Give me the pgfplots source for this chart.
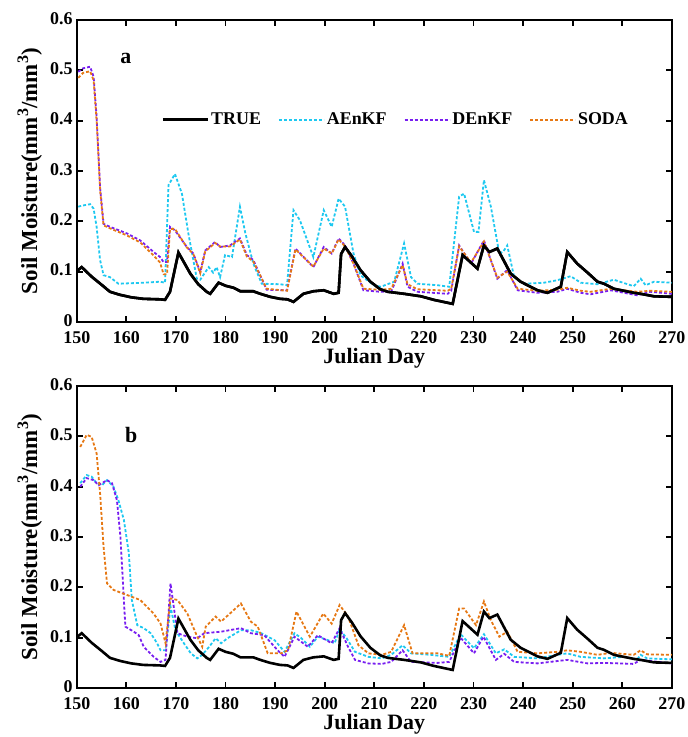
\documentclass[border=0pt]{standalone}
\usepackage{fontspec}
\setmainfont{Liberation Serif}
\usepackage{pgfplots}
\pgfplotsset{compat=1.18}
\definecolor{cTrue}{RGB}{0,0,0}
\definecolor{cA}{RGB}{30,200,240}
\definecolor{cD}{RGB}{120,30,240}
\definecolor{cS}{RGB}{230,120,20}
\pgfplotsset{
  myax/.style={
    scale only axis, width=595bp, height=302bp,
    xmin=150, xmax=270, ymin=0, ymax=0.6,
    xtick={150,160,170,180,190,200,210,220,230,240,250,260,270},
    xticklabels={150,160,170,180,190,200,210,220,230,240,250,260,270},
    ytick={0,0.1,0.2,0.3,0.4,0.5,0.6},
    yticklabels={0,0.1,0.2,0.3,0.4,0.5,0.6},
    tick align=inside,
    major tick length=6bp,
    every tick/.style={black, line width=1.8bp},
    axis line style={line width=2.2bp},
    tick label style={font=\fontsize{18}{20}\selectfont\bfseries},
    xticklabel style={anchor=center, yshift=-15.5bp, inner sep=0.5bp},
    yticklabel style={anchor=east, inner sep=0.5bp, xshift=-3.5bp, yshift=1.5bp},
    xlabel={Julian Day},
    ylabel={Soil Moisture(mm\textsuperscript{3}/mm\textsuperscript{3})},
    every axis x label/.style={at={(rel axis cs:0.5,-0.119)}, anchor=center, inner sep=1bp,
      font=\fontsize{22}{24}\selectfont\bfseries},
    every axis y label/.style={at={(rel axis cs:-0.079,0.5)}, anchor=center, rotate=90,
      font=\fontsize{23}{25}\selectfont\bfseries},
    clip mode=individual,
  },
  tru/.style={cTrue, line width=2.6bp},
  aen/.style={cA, line width=1.8bp, dash pattern=on 3bp off 2bp},
  den/.style={cD, line width=1.8bp, dash pattern=on 3bp off 2bp},
  sod/.style={cS, line width=1.8bp, dash pattern=on 3bp off 2bp},
}
\pgfplotstableread{
x y
150 0.101
151 0.109
153 0.090
155 0.074
156.7 0.060
158.7 0.054
161 0.049
163.4 0.046
166.8 0.045
167.8 0.044
168.8 0.060
170.5 0.138
172.9 0.096
174.5 0.075
176.2 0.060
176.9 0.056
178.6 0.078
180 0.072
181.6 0.068
183 0.061
185.6 0.061
187 0.056
189 0.050
191 0.046
192.5 0.045
193.7 0.040
194.7 0.048
195.7 0.056
197.7 0.061
199.8 0.063
201.8 0.056
202.8 0.058
203.3 0.135
204.1 0.149
205.5 0.130
207.2 0.103
209.2 0.080
211.2 0.065
212.7 0.060
216 0.056
219.4 0.051
222 0.044
225.8 0.036
227.8 0.133
230.8 0.106
232.1 0.152
233.2 0.139
234.8 0.146
237.5 0.096
239.5 0.080
242.9 0.063
244.9 0.058
247.6 0.070
248.9 0.139
250.9 0.116
253 0.098
255 0.080
256.3 0.076
258.3 0.066
262.3 0.058
263.7 0.056
266.4 0.051
270 0.050
}\tTrue
\pgfplotstableread{
x y
150.3 0.229
151 0.231
152.7 0.234
153.4 0.225
154 0.189
154.7 0.123
155.4 0.093
156.7 0.089
158.4 0.076
163.4 0.078
166.8 0.080
167.8 0.078
168.5 0.272
169.8 0.294
171.2 0.255
172.5 0.176
174.2 0.086
174.9 0.084
176.6 0.109
177.5 0.098
178.2 0.109
178.9 0.089
179.9 0.133
181.3 0.129
182.9 0.229
184 0.176
185.6 0.116
187.3 0.076
191 0.075
192.4 0.073
193.7 0.222
195 0.202
197.7 0.129
199.8 0.222
201.4 0.189
202.8 0.245
204.1 0.229
205.8 0.136
207.2 0.093
209.9 0.073
211.3 0.070
214 0.080
216 0.156
217.4 0.089
218.7 0.076
222.8 0.073
225.1 0.070
227.1 0.249
228.1 0.255
230.1 0.179
231 0.179
232.1 0.282
233.5 0.229
235.2 0.136
236 0.140
236.8 0.152
238.2 0.089
240.2 0.076
244.2 0.078
246.9 0.083
249.6 0.091
251.6 0.078
255 0.075
258.3 0.084
262.3 0.071
263.7 0.086
264.7 0.073
266.4 0.080
270 0.078
}\tAa
\pgfplotstableread{
x y
150.3 0.497
151.3 0.504
152.7 0.507
153.4 0.487
154 0.408
154.7 0.268
155.4 0.195
156.7 0.189
160.1 0.176
162.8 0.162
165.5 0.139
166.8 0.129
167.5 0.119
168.2 0.119
168.8 0.189
169.8 0.182
172.2 0.149
173.5 0.136
174.9 0.099
175.9 0.142
177.9 0.159
178.9 0.149
180.9 0.152
182.9 0.166
184.3 0.133
185.6 0.123
188.3 0.064
192.4 0.063
194.1 0.146
197.7 0.109
199.8 0.149
201.4 0.136
202.8 0.166
204.1 0.152
205.8 0.116
207.8 0.063
211.2 0.060
213.4 0.060
215.7 0.116
216.7 0.070
218.7 0.060
224.8 0.056
225.5 0.062
227.1 0.152
229.5 0.116
232.1 0.162
234.8 0.086
236.8 0.103
238.9 0.063
242.9 0.058
246.9 0.060
248.9 0.066
251.6 0.058
253.6 0.055
257.7 0.063
263 0.053
265.7 0.060
270 0.056
}\tDa
\pgfplotstableread{
x y
150.3 0.485
151.3 0.495
152.7 0.498
153.4 0.480
154 0.400
154.7 0.262
155.4 0.192
156.7 0.186
160.1 0.172
162.8 0.158
165.5 0.132
166.8 0.118
167.5 0.095
168.2 0.095
168.8 0.185
169.8 0.185
172.2 0.148
173.5 0.135
174.9 0.097
175.9 0.140
177.9 0.157
178.9 0.150
180.9 0.150
182.9 0.164
184.3 0.130
185.6 0.120
188.3 0.066
192.4 0.062
194.1 0.144
197.7 0.110
199.8 0.146
201.4 0.136
202.8 0.164
204.1 0.150
205.8 0.116
207.8 0.066
211.2 0.064
213.4 0.066
215.7 0.113
216.7 0.075
218.7 0.065
224.8 0.062
225.5 0.066
227.1 0.150
229.5 0.118
232.1 0.160
234.8 0.088
236.8 0.100
238.9 0.066
242.9 0.062
246.9 0.064
248.9 0.068
251.6 0.062
253.6 0.060
257.7 0.066
263 0.060
265.7 0.062
270 0.060
}\tSa
\pgfplotstableread{
x y
150.7 0.407
152 0.423
153 0.420
154 0.407
155.1 0.403
156.1 0.413
157.4 0.400
158.4 0.373
159.5 0.334
160.5 0.268
161.1 0.175
162.2 0.125
163.5 0.119
164.9 0.109
166.2 0.089
166.9 0.075
167.9 0.075
168.9 0.162
169.9 0.115
171.6 0.089
173 0.069
174.3 0.059
175.3 0.066
176.7 0.082
178 0.099
179.1 0.089
180.4 0.099
183.1 0.115
185.1 0.115
187.2 0.109
189.9 0.095
191.9 0.072
193.9 0.109
195.3 0.099
197 0.082
198.6 0.102
200.7 0.095
202 0.089
203 0.117
204.4 0.099
206.1 0.072
208.8 0.062
211.5 0.059
213.4 0.066
215.7 0.085
217.4 0.069
221.4 0.066
225.1 0.062
227.4 0.107
230.1 0.079
232.1 0.107
234.5 0.069
236.2 0.077
238.2 0.062
242.9 0.059
246.9 0.066
248.9 0.069
251.6 0.062
256.3 0.059
260.3 0.062
263 0.057
263.7 0.066
265 0.059
270 0.057
}\tAb
\pgfplotstableread{
x y
150.7 0.400
152 0.417
153.4 0.413
154.4 0.403
156.1 0.413
157.1 0.407
158.1 0.373
158.8 0.301
159.5 0.175
159.8 0.122
161.5 0.112
162.5 0.105
163.5 0.082
165.5 0.062
166.9 0.052
167.9 0.056
168.9 0.208
170.3 0.109
172.3 0.102
174.3 0.099
175.7 0.109
179.1 0.112
183.1 0.119
185.1 0.109
187.8 0.105
190.5 0.075
191.9 0.062
193.9 0.102
196.6 0.082
198.6 0.105
201.4 0.089
203 0.119
204.7 0.082
206.1 0.056
208.8 0.049
211.5 0.048
213.4 0.052
215.7 0.075
217.4 0.052
222.8 0.050
225.1 0.052
227.4 0.100
230.1 0.069
232 0.102
234.5 0.056
236.2 0.068
238.2 0.052
242.9 0.049
248.9 0.056
253 0.049
256.3 0.050
262.3 0.048
263.7 0.056
270 0.049
}\tDb
\pgfplotstableread{
x y
150.7 0.479
152 0.503
153 0.499
154 0.466
154.7 0.387
155.4 0.281
156.1 0.208
157.4 0.195
160.1 0.185
162.8 0.175
165.5 0.148
166.9 0.128
167.9 0.089
168.9 0.178
170.3 0.175
172.3 0.148
174.3 0.102
175.3 0.082
176 0.122
178 0.142
179.1 0.132
183.1 0.168
185.1 0.132
186.5 0.122
188.5 0.069
191.2 0.069
192.6 0.075
194.3 0.152
197 0.102
199.7 0.148
201.4 0.128
203 0.165
204.7 0.142
206.8 0.085
208.8 0.069
211.5 0.066
213.4 0.072
216 0.125
217.7 0.069
222.8 0.069
225.1 0.064
227.1 0.158
228.1 0.158
230.5 0.125
232.1 0.172
233.5 0.135
235.2 0.102
236.8 0.112
238.9 0.072
242.9 0.069
246.9 0.072
248.9 0.075
251.6 0.072
255 0.066
257.7 0.070
262.3 0.066
263.7 0.075
265 0.067
270 0.066
}\tSb
\begin{document}
\begin{tikzpicture}
\begin{axis}[myax,
  legend columns=4,
  legend style={draw=none, fill=none, at={(0.536,0.67)}, anchor=center,
    font=\fontsize{18}{20}\selectfont\bfseries,
    /tikz/every even column/.append style={column sep=15bp}},
  legend image code/.code={\draw[#1] (0bp,0bp) -- (45bp,0bp);},
]
\addplot[tru] table {\tTrue};
\addlegendentry{TRUE}
\addplot[aen] table {\tAa};
\addlegendentry{AEnKF}
\addplot[den] table {\tDa};
\addlegendentry{DEnKF}
\addplot[sod] table {\tSa};
\addlegendentry{SODA}
\addplot[tru, forget plot] table {\tTrue};
\node[font=\fontsize{22}{24}\selectfont\bfseries] at (axis cs:159.9,0.524) {a};
\path (rel axis cs:-0.129,1.066) -- (rel axis cs:1.027,1.066);
\end{axis}
\begin{axis}[myax, at={(0,-366bp)}]
\addplot[aen] table {\tAb};
\addplot[den] table {\tDb};
\addplot[sod] table {\tSb};
\addplot[tru] table {\tTrue};
\node[font=\fontsize{22}{24}\selectfont\bfseries] at (axis cs:161,0.502) {b};
\path (rel axis cs:-0.129,-0.162);
\end{axis}
\end{tikzpicture}
\end{document}
